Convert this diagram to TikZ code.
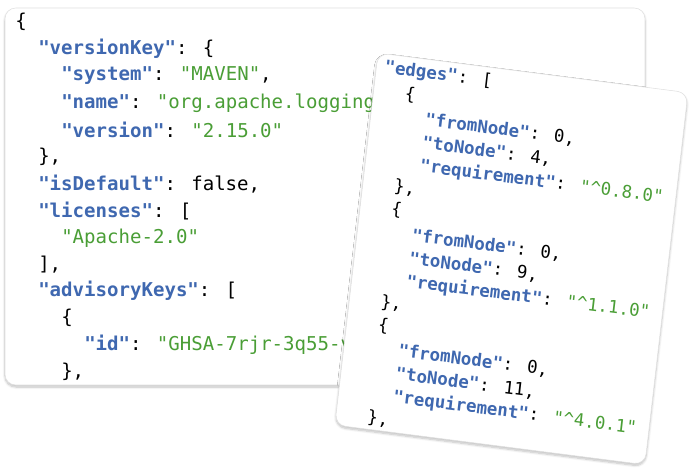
\documentclass[tikz,border=0pt]{standalone}
\usepackage{fontspec}
\newfontfamily\codefont{DejaVu Sans Mono}
\usetikzlibrary{shadows.blur}
\definecolor{keyblue}{HTML}{3F68B0}
\definecolor{strgreen}{HTML}{4A9E36}
\newcommand{\jk}[1]{\textcolor{keyblue}{\bfseries"#1"}}
\newcommand{\jstr}[1]{\textcolor{strgreen}{"#1"}}
\tikzset{
  card/.style={fill=white, draw=black!12, rounded corners=8pt, blur shadow={shadow blur steps=8, shadow xshift=0pt, shadow yshift=-1.5pt, shadow opacity=25}},
  lline/.style={anchor=west, inner sep=0pt, font=\codefont\fontsize{14.3}{16}\selectfont},
  rline/.style={anchor=west, inner sep=0pt, transform shape, font=\codefont\fontsize{13}{15}\selectfont}
}
\begin{document}
\begin{tikzpicture}[x=0.75pt,y=0.75pt]
\useasboundingbox (0,0) rectangle (697,-474);
% left card
\path[card] (5,-8) rectangle (645,-385);
\begin{scope}
\clip[rounded corners=8pt] (5,-8) rectangle (645,-385);
\node[lline] (l0) at (15,-22) {\{};
\node[lline] (l1) at (38,-49) {\jk{versionKey}: \{};
\node[lline] (l2) at (61,-76) {\jk{system}: \jstr{MAVEN},};
\node[lline] (l3) at (61,-103) {\jk{name}: \textcolor{strgreen}{"org.apache.logging.log4j:log4j-core"},};
\node[lline] (l4) at (61,-130) {\jk{version}: \jstr{2.15.0}};
\node[lline] (l5) at (38,-157) {\},};
\node[lline] (l6) at (38,-184) {\jk{isDefault}: false,};
\node[lline] (l7) at (38,-211) {\jk{licenses}: [};
\node[lline] (l8) at (61,-238) {\jstr{Apache-2.0}};
\node[lline] (l9) at (38,-265) {],};
\node[lline] (l10) at (38,-291) {\jk{advisoryKeys}: [};
\node[lline] (l11) at (61,-318) {\{};
\node[lline] (l12) at (84,-345) {\jk{id}: \jstr{GHSA-7rjr-3q55-vv33}};
\node[lline] (l13) at (61,-372) {\},};
\end{scope}
% right card (slanted)
\begin{scope}[shift={(378,-53)}, cm={1,-0.128,0.116,1,(0,0)}]
\path[card] (0,0) rectangle (310,-372);
\node[rline] (r0) at (8,-14) {\jk{edges}: [};
\node[rline] (r1) at (31,-37.1) {\{};
\node[rline] (r2) at (54,-60.2) {\jk{fromNode}: 0,};
\node[rline] (r3) at (54,-83.3) {\jk{toNode}: 4,};
\node[rline] (r4) at (54,-106.4) {\jk{requirement}: \jstr{\textasciicircum 0.8.0}};
\node[rline] (r5) at (31,-129.5) {\},};
\node[rline] (r6) at (31,-152.6) {\{};
\node[rline] (r7) at (54,-175.7) {\jk{fromNode}: 0,};
\node[rline] (r8) at (54,-198.8) {\jk{toNode}: 9,};
\node[rline] (r9) at (54,-221.9) {\jk{requirement}: \jstr{\textasciicircum 1.1.0}};
\node[rline] (r10) at (31,-245) {\},};
\node[rline] (r11) at (31,-268.1) {\{};
\node[rline] (r12) at (54,-291.2) {\jk{fromNode}: 0,};
\node[rline] (r13) at (54,-314.3) {\jk{toNode}: 11,};
\node[rline] (r14) at (54,-337.4) {\jk{requirement}: \jstr{\textasciicircum 4.0.1}};
\node[rline] (r15) at (31,-360.5) {\},};
\end{scope}
\end{tikzpicture}
\end{document}
